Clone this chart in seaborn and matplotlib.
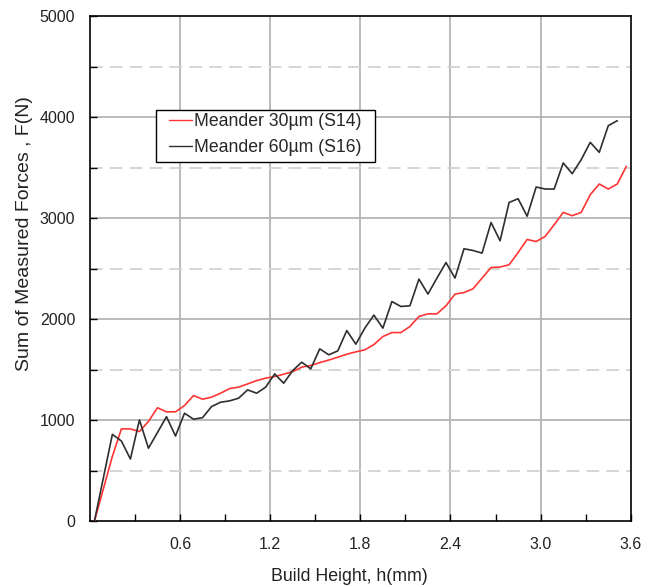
import matplotlib
matplotlib.use("Agg")
import matplotlib.pyplot as plt
from matplotlib.patches import Rectangle
from matplotlib.ticker import MultipleLocator, FixedLocator
import seaborn as sns
import pandas as pd

# Build height (mm) and summed force (N) for the two meander scan strategies
h_s14 = [0.03, 0.15, 0.21, 0.27, 0.33, 0.39, 0.45, 0.51, 0.57, 0.63, 0.69,
         0.75, 0.81, 0.87, 0.93, 0.99, 1.05, 1.11, 1.17, 1.23, 1.29, 1.35,
         1.41, 1.47, 1.53, 1.59, 1.65, 1.71, 1.77, 1.83, 1.89, 1.95, 2.01,
         2.07, 2.13, 2.19, 2.25, 2.31, 2.37, 2.43, 2.49, 2.55, 2.61, 2.67,
         2.73, 2.79, 2.85, 2.91, 2.97, 3.03, 3.09, 3.15, 3.21, 3.27, 3.33,
         3.39, 3.45, 3.51, 3.57]
f_s14 = [0, 645, 916, 916, 890, 990, 1125, 1085, 1085, 1147, 1246,
         1210, 1230, 1269, 1315, 1329, 1361, 1394, 1418, 1434, 1457, 1483,
         1527, 1543, 1572, 1597, 1625, 1655, 1678, 1698, 1750, 1830, 1869,
         1869, 1929, 2028, 2054, 2054, 2134, 2250, 2265, 2302, 2408, 2513,
         2517, 2540, 2661, 2790, 2770, 2820, 2936, 3058, 3025, 3058, 3233,
         3339, 3289, 3339, 3513]

h_s16 = h_s14[:-1]
f_s16 = [0, 862, 796, 618, 1005, 725, 880, 1037, 846, 1071, 1012,
         1027, 1137, 1180, 1193, 1220, 1302, 1269, 1329, 1460, 1368, 1493,
         1576, 1510, 1708, 1649, 1688, 1889, 1754, 1913, 2042, 1913, 2176,
         2127, 2134, 2398, 2250, 2408, 2562, 2408, 2698, 2681, 2655, 2958,
         2777, 3156, 3193, 3020, 3309, 3289, 3289, 3547, 3441, 3580, 3751,
         3652, 3916, 3965]

series_names = ["Meander 30\u00b5m (S14)", "Meander 60\u00b5m (S16)"]
x_ticks = [0.6, 1.2, 1.8, 2.4, 3.0, 3.6]
x_tick_labels = ["0.6", "1.2", "1.8", "2.4", "3.0", "3.6"]
y_ticks = [0, 1000, 2000, 3000, 4000, 5000]

df = pd.concat([
    pd.DataFrame({"h": h_s14, "F": f_s14, "series": series_names[0]}),
    pd.DataFrame({"h": h_s16, "F": f_s16, "series": series_names[1]}),
], ignore_index=True)

sns.set_theme(style="white")
plt.rcParams["font.family"] = ["Liberation Sans", "DejaVu Sans"]

fig = plt.figure(figsize=(6.51, 5.87), dpi=100)
ax = fig.add_axes([0.138, 0.1116, 0.831, 0.861])

# background grid: solid at major values, dashed at the half-thousands
for v in [0.6, 1.2, 1.8, 2.4, 3.0]:
    ax.axvline(v, color="#b4b4b4", lw=1.3, zorder=0)
for v in [1000, 2000, 3000, 4000]:
    ax.axhline(v, color="#b4b4b4", lw=1.3, zorder=0)
for v in [500, 1500, 2500, 3500, 4500]:
    ax.axhline(v, color="#d2d2d2", lw=1.3, ls=(0, (7, 4)), zorder=0)

sns.lineplot(data=df, x="h", y="F", hue="series", sort=False, estimator=None,
             palette=["#ff3535", "#2e2e2e"], linewidth=1.2, ax=ax, zorder=3)

ax.set_xlim(0, 3.6)
ax.set_ylim(0, 5000)
ax.xaxis.set_major_locator(FixedLocator(x_ticks))
ax.set_xticklabels(x_tick_labels)
ax.xaxis.set_minor_locator(FixedLocator([0.3, 0.9, 1.5, 2.1, 2.7, 3.3]))
ax.yaxis.set_major_locator(FixedLocator(y_ticks))
ax.yaxis.set_minor_locator(MultipleLocator(500))
ax.tick_params(axis="both", which="both", direction="in", length=5, width=1,
               color="black", labelsize=11.5, labelcolor="#222222",
               bottom=True, left=True, top=False, right=False)
ax.tick_params(axis="y", which="both", pad=10.5)
ax.tick_params(axis="x", which="both", pad=11)

for s in ax.spines.values():
    s.set_color("black")
    s.set_linewidth(1.2)

ax.set_xlabel("Build Height, h(mm)", fontsize=12.8, color="#222222")
ax.xaxis.set_label_coords(0.479, -0.092)
ax.set_ylabel("Sum of Measured Forces , F(N)", fontsize=14, color="#222222")
ax.yaxis.set_label_coords(-0.105, 0.57)

# legend: white boxed panel with the entries laid over it
ax.add_patch(Rectangle((0.123, 0.712), 0.404, 0.103, transform=ax.transAxes,
                       facecolor="white", edgecolor="black", lw=1.0,
                       zorder=4))
leg = ax.legend(loc="upper left", bbox_to_anchor=(0.147, 0.808),
                frameon=False, fontsize=12.7, handlelength=1.3,
                handletextpad=0.12, borderpad=0, labelspacing=0.5,
                borderaxespad=0)
leg.set_zorder(5)
for line in leg.get_lines():
    line.set_linewidth(1.0)

fig.savefig("out.png", dpi=100)
